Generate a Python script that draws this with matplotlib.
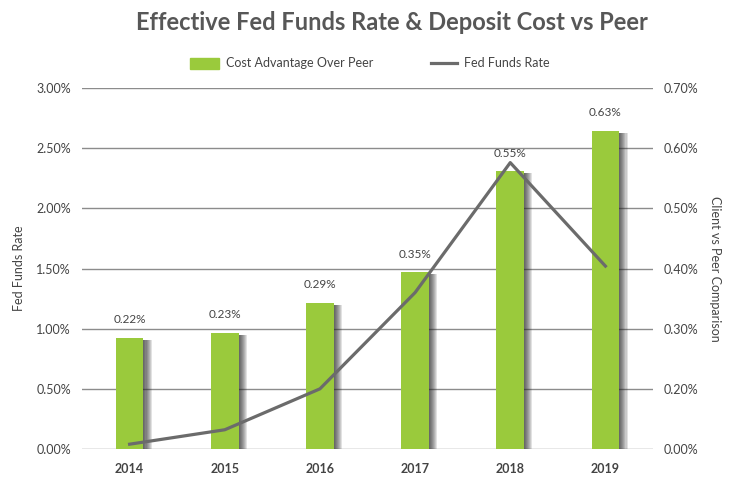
import matplotlib
matplotlib.use("Agg")
from matplotlib import pyplot as plt
from matplotlib import patheffects as pe
import numpy as np

years = ['2014', '2015', '2016', '2017', '2018', '2019']
cost_advantage = [0.22, 0.23, 0.29, 0.35, 0.55, 0.63]
fed_funds = [0.04, 0.16, 0.50, 1.30, 2.38, 1.52]
left_ticks = ['0.00%', '0.50%', '1.00%', '1.50%', '2.00%', '2.50%', '3.00%']
right_ticks = ['0.00%', '0.20%', '0.30%', '0.40%', '0.50%', '0.60%', '0.70%']

plt.rcParams['font.family'] = ['Lato', 'DejaVu Sans']

green = '#9aca3c'
line_col = '#6b6b6b'
text_col = '#444444'

fig = plt.figure(figsize=(7.31, 4.79), dpi=100)
ax = fig.add_axes([0.1122, 0.0626, 0.7811, 0.7537])
ax2 = ax.twinx()

x = np.arange(len(years))

# soft shadow to the right of each bar: stacked faint copies
shadow = [pe.SimplePatchShadow(offset=(0.75 * i, -1.5), shadow_rgbFace='#222222', alpha=0.13)
          for i in range(1, 9)]
bars = ax2.bar(x, cost_advantage, width=0.29, color=green, zorder=2,
               path_effects=shadow + [pe.Normal()])
for xi, v in zip(x, cost_advantage):
    ax2.annotate(f'{v:.2f}%', (xi, v), xytext=(0, 9), textcoords='offset points',
                 ha='center', va='bottom', fontsize=8.5, color=text_col)
top2 = 0.715
ax2.set_ylim(0, top2)
ax2.set_yticks(np.linspace(0, top2, 7))
ax2.set_yticklabels(right_ticks)

# fed funds line on the left axis, drawn over the bars
ax.plot(x, fed_funds, color=line_col, lw=2.3, zorder=5)
ax.set_ylim(0, 3.0)
ax.set_yticks(np.linspace(0, 3.0, 7))
ax.set_yticklabels(left_ticks)
ax.set_xlim(-0.5, 5.5)
ax.set_xticks(x)
ax.set_xticklabels(years, fontweight='bold')
ax.set_zorder(ax2.get_zorder() + 1)
ax.patch.set_visible(False)

# gridlines behind everything
for t in np.linspace(0, top2, 7):
    ax2.axhline(t, color='#8c8c8c', lw=1, zorder=0)

for a in (ax, ax2):
    for s in a.spines.values():
        s.set_visible(False)
    a.tick_params(length=0, labelsize=9, colors=text_col)
ax.tick_params(axis='y', pad=8)
ax2.tick_params(axis='y', pad=8)
ax.tick_params(axis='x', pad=10, labelsize=9)

ax.set_ylabel('Fed Funds Rate', fontsize=9, color=text_col, labelpad=8)
ax2.set_ylabel('Client vs Peer Comparison', fontsize=9, color=text_col,
               rotation=270, labelpad=16)

fig.text(392 / 731, 1 - 22 / 479, 'Effective Fed Funds Rate & Deposit Cost vs Peer',
         ha='center', va='center', fontsize=17, fontweight='bold', color='#575757')

# legend
fig.patches.append(plt.Rectangle((190 / 731, 1 - 69 / 479), 29 / 731, 11 / 479,
                                 transform=fig.transFigure, color=green))
fig.text(226 / 731, 1 - 63 / 479, 'Cost Advantage Over Peer', va='center',
         fontsize=9, color=text_col)
fig.lines.append(plt.Line2D([431 / 731, 457 / 731], [1 - 63 / 479, 1 - 63 / 479],
                            transform=fig.transFigure, color=line_col, lw=2.3))
fig.text(464 / 731, 1 - 63 / 479, 'Fed Funds Rate', va='center',
         fontsize=9, color=text_col)

fig.savefig('out.png', dpi=100)
